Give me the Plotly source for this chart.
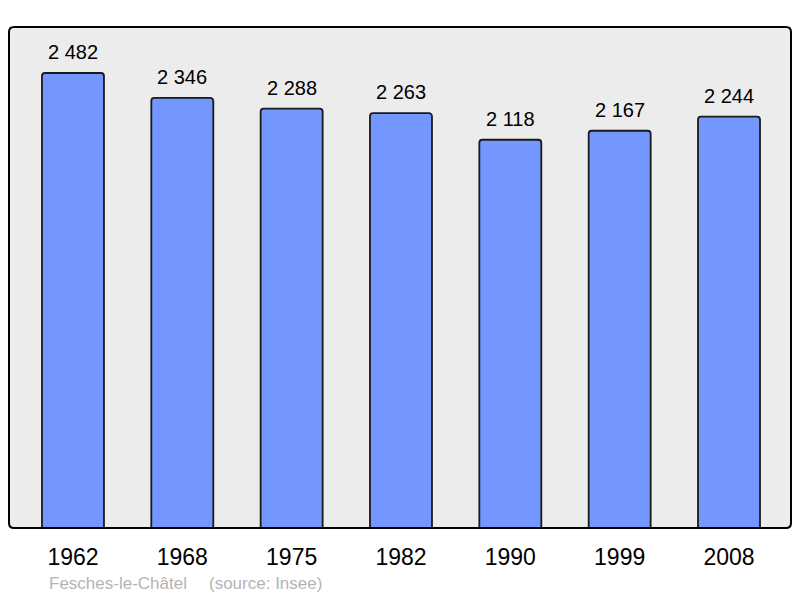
import plotly.graph_objects as go

years = ["1962", "1968", "1975", "1982", "1990", "1999", "2008"]
population = [2482, 2346, 2288, 2263, 2118, 2167, 2244]
commune = "Fesches-le-Châtel"
source = "(source: Insee)"

W, H = 800, 598
L, R, T, B = 9, 9, 27, 70
pw, ph = W - L - R, H - T - B

x_idx = list(range(len(years)))

fig = go.Figure()
fig.add_trace(go.Bar(
    x=x_idx, y=population, width=0.567,
    marker=dict(color="#7396ff", line=dict(color="#1a1a1a", width=1.8), cornerradius=3),
    hoverinfo="skip",
))

def fmt(v):
    return f"{v:,}".replace(",", " ")

annotations = []
for xi, v in zip(x_idx, population):
    annotations.append(dict(x=xi, y=v, xref="x", yref="y", text=fmt(v), showarrow=False,
                            yanchor="bottom", yshift=8,
                            font=dict(family="Liberation Sans, Arial, sans-serif", size=20, color="#000")))
annotations.append(dict(x=47, y=583, xref="paper", yref="paper", text=commune, showarrow=False))
annotations.append(dict(x=207, y=583, xref="paper", yref="paper", text=source, showarrow=False))
for a in annotations[-2:]:
    a["x"] = (a["x"] - L) / pw
    a["y"] = (H - B - a["y"]) / ph
    a["xanchor"] = "left"
    a["yanchor"] = "middle"
    a["font"] = dict(family="Liberation Sans, Arial, sans-serif", size=17, color="#b4b4b4")

rx, ry = 5 / pw, 5 / ph
path = (f"M {rx},0 L {1-rx},0 Q 1,0 1,{ry} L 1,{1-ry} Q 1,1 {1-rx},1 "
        f"L {rx},1 Q 0,1 0,{1-ry} L 0,{ry} Q 0,0 {rx},0 Z")

fig.update_layout(
    width=W, height=H,
    margin=dict(l=L, r=R, t=T, b=B, pad=0),
    paper_bgcolor="#ffffff",
    plot_bgcolor="#ececec",
    showlegend=False,
    annotations=annotations,
    shapes=[dict(type="path", path=path, xref="paper", yref="paper",
                 line=dict(color="#000000", width=2), layer="above")],
    xaxis=dict(range=[-0.585, 6.567], tickmode="array", tickvals=x_idx, ticktext=years,
               showgrid=False, zeroline=False, showline=False,
               ticks="outside", ticklen=8, tickcolor="rgba(0,0,0,0)",
               tickfont=dict(family="Liberation Sans, Arial, sans-serif", size=23, color="#000")),
    yaxis=dict(range=[0, 2733], visible=False, showgrid=False, zeroline=False),
)

fig.write_html("out.html", config={"displayModeBar": False},
               post_script="document.body.style.margin='0';document.body.style.overflow='hidden';")
